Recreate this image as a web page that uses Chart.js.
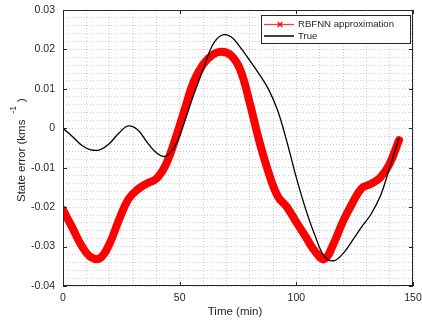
<!DOCTYPE html>
<html>
<head>
<meta charset="utf-8">
<script src="https://cdn.jsdelivr.net/npm/chart.js@4.4.0/dist/chart.umd.min.js"></script>
<style>
  html, body { margin: 0; padding: 0; background: #fff; }
  #wrap { width: 422px; height: 320px; }
</style>
</head>
<body>
<div id="wrap"><canvas id="stateChart" width="422" height="320"></canvas></div>
<script>
// time samples (min)
const timeMin = [0, 4, 8, 12, 16, 20, 24, 28, 32, 36, 40, 44, 48, 52, 56, 60, 64, 68, 72, 76,
    80, 84, 88, 92, 96, 100, 104, 108, 112, 116, 120, 124, 128, 132, 136, 140, 144];

// RBFNN approximation (red)
const rbfnnError = [-0.0207, -0.0252, -0.0298, -0.0327, -0.0329, -0.0292, -0.0232, -0.0180, -0.0155, -0.0140, -0.0128,
    -0.0093, -0.0030, 0.0045, 0.0118, 0.0162, 0.0186, 0.0194, 0.0185, 0.0148,
    0.0065, -0.0030, -0.0110, -0.0172, -0.0200, -0.0238, -0.0275, -0.0312, -0.0332, -0.0292,
    -0.0236, -0.0190, -0.0152, -0.0141, -0.0125, -0.0090, -0.0030];

// True (black)
const trueError = [0, -0.0021, -0.0043, -0.0055, -0.0054, -0.0038, -0.0012, 0.0006, -0.0004, -0.0035, -0.0062,
    -0.0071, -0.0045, 0.0015, 0.0085, 0.0148, 0.0210, 0.0236, 0.0232, 0.0205,
    0.0172, 0.0138, 0.0100, 0.0045, -0.0035, -0.0125, -0.0205, -0.0272, -0.0325, -0.0336,
    -0.0318, -0.0285, -0.0250, -0.0218, -0.0172, -0.0100, -0.0025];

const xTicks = [0, 50, 100, 150];
const yTicks = [-0.04, -0.03, -0.02, -0.01, 0, 0.01, 0.02, 0.03];
const legendLabels = ['RBFNN approximation', 'True'];

const textColor = '#262626';
const gridColor = 'rgba(0,0,0,0.2)';

function toPoints(xs, ys) {
    return xs.map((x, i) => ({ x: x, y: ys[i] }));
}

// draws box, inward ticks, axis titles and the legend
const matlabFrame = {
    id: 'matlabFrame',
    afterDraw(chart) {
        const ctx = chart.ctx;
        const a = chart.chartArea;
        const xs = chart.scales.x;
        const ys = chart.scales.y;
        ctx.save();

        // box
        ctx.strokeStyle = textColor;
        ctx.lineWidth = 1;
        ctx.strokeRect(Math.round(a.left) + 0.5, Math.round(a.top) + 0.5,
            Math.round(a.right - a.left) - 1, Math.round(a.bottom - a.top) - 1);

        // inward ticks
        ctx.beginPath();
        xTicks.forEach(v => {
            const px = Math.round(xs.getPixelForValue(v)) + 0.5;
            ctx.moveTo(px, a.bottom); ctx.lineTo(px, a.bottom - 4);
            ctx.moveTo(px, a.top); ctx.lineTo(px, a.top + 4);
        });
        yTicks.forEach(v => {
            const py = Math.round(ys.getPixelForValue(v)) + 0.5;
            ctx.moveTo(a.left, py); ctx.lineTo(a.left + 4, py);
            ctx.moveTo(a.right, py); ctx.lineTo(a.right - 4, py);
        });
        ctx.stroke();

        // x title
        ctx.fillStyle = textColor;
        ctx.font = '11.5px "Liberation Sans", Arial, sans-serif';
        ctx.textAlign = 'center';
        ctx.textBaseline = 'middle';
        ctx.fillText('Time (min)', 235, 312);

        // y title with superscript
        ctx.translate(22, 148);
        ctx.rotate(-Math.PI / 2);
        ctx.textAlign = 'left';
        ctx.textBaseline = 'middle';
        const mainTxt = 'State error (kms';
        const w1 = ctx.measureText(mainTxt).width;
        const start = -54;
        ctx.fillText(mainTxt, start, 0);
        ctx.font = '8.5px "Liberation Sans", Arial, sans-serif';
        ctx.fillText('-1', start + w1 + 6, -8);
        const w2 = ctx.measureText('-1').width;
        ctx.font = '11.5px "Liberation Sans", Arial, sans-serif';
        ctx.fillText(')', start + w1 + 6 + w2 + 4, 0);
        ctx.setTransform(1, 0, 0, 1, 0, 0);

        // legend
        ctx.fillStyle = '#fff';
        ctx.fillRect(261, 15, 149, 28);
        ctx.strokeStyle = textColor;
        ctx.lineWidth = 1;
        ctx.strokeRect(261.5, 15.5, 149, 28);

        ctx.strokeStyle = '#ff3b3b';
        ctx.lineWidth = 1.3;
        ctx.beginPath();
        ctx.moveTo(264, 24.5); ctx.lineTo(294, 24.5);
        ctx.stroke();
        ctx.strokeStyle = '#ff0000';
        ctx.lineWidth = 1.2;
        ctx.beginPath();
        ctx.moveTo(277.5, 22); ctx.lineTo(282.5, 27);
        ctx.moveTo(282.5, 22); ctx.lineTo(277.5, 27);
        ctx.stroke();

        ctx.strokeStyle = '#000';
        ctx.lineWidth = 1.5;
        ctx.beginPath();
        ctx.moveTo(264, 36); ctx.lineTo(294, 36);
        ctx.stroke();

        ctx.fillStyle = textColor;
        ctx.font = '9.6px "Liberation Sans", Arial, sans-serif';
        ctx.textAlign = 'left';
        ctx.textBaseline = 'middle';
        ctx.fillText(legendLabels[0], 298, 24.5);
        ctx.fillText(legendLabels[1], 298, 36.5);

        ctx.restore();
    }
};

document.addEventListener('DOMContentLoaded', function () {
    const ctx = document.getElementById('stateChart').getContext('2d');
    new Chart(ctx, {
        type: 'line',
        data: {
            datasets: [{
                label: legendLabels[1],
                data: toPoints(timeMin, trueError),
                borderColor: '#000',
                borderWidth: 1.3,
                pointRadius: 0,
                tension: 0.4,
                order: 0
            }, {
                label: legendLabels[0],
                data: toPoints(timeMin, rbfnnError),
                borderColor: '#ff0000',
                borderWidth: 8,
                borderCapStyle: 'round',
                borderJoinStyle: 'round',
                pointRadius: 0,
                tension: 0.4,
                order: 1
            }]
        },
        options: {
            responsive: false,
            animation: false,
            events: [],
            layout: { padding: { left: 0, top: 10, right: 9, bottom: 0 } },
            plugins: {
                legend: { display: false },
                tooltip: { enabled: false }
            },
            scales: {
                x: {
                    type: 'linear',
                    min: 0,
                    max: 150,
                    afterFit: s => { s.height = 34; s.paddingLeft = 0; s.paddingRight = 0; },
                    border: { display: false, dash: [1, 2] },
                    grid: { color: gridColor, lineWidth: 1, drawTicks: false },
                    ticks: {
                        stepSize: 10,
                        autoSkip: false,
                        maxRotation: 0,
                        padding: 6,
                        color: textColor,
                        font: { family: '"Liberation Sans", Arial, sans-serif', size: 10.5 },
                        callback: v => (xTicks.includes(v) ? String(v) : '')
                    }
                },
                y: {
                    min: -0.04,
                    max: 0.03,
                    afterFit: s => { s.width = 63; s.paddingTop = 0; s.paddingBottom = 0; },
                    border: { display: false, dash: [1, 2] },
                    grid: { color: gridColor, lineWidth: 1, drawTicks: false },
                    ticks: {
                        stepSize: 0.002,
                        autoSkip: false,
                        padding: 8,
                        color: textColor,
                        font: { family: '"Liberation Sans", Arial, sans-serif', size: 10.5 },
                        callback: function (v) {
                            const k = Math.round(v * 1000);
                            if (k % 10 !== 0) return '';
                            return String(Math.round(v * 100) / 100);
                        }
                    }
                }
            }
        },
        plugins: [matlabFrame]
    });
});
</script>
</body>
</html>
